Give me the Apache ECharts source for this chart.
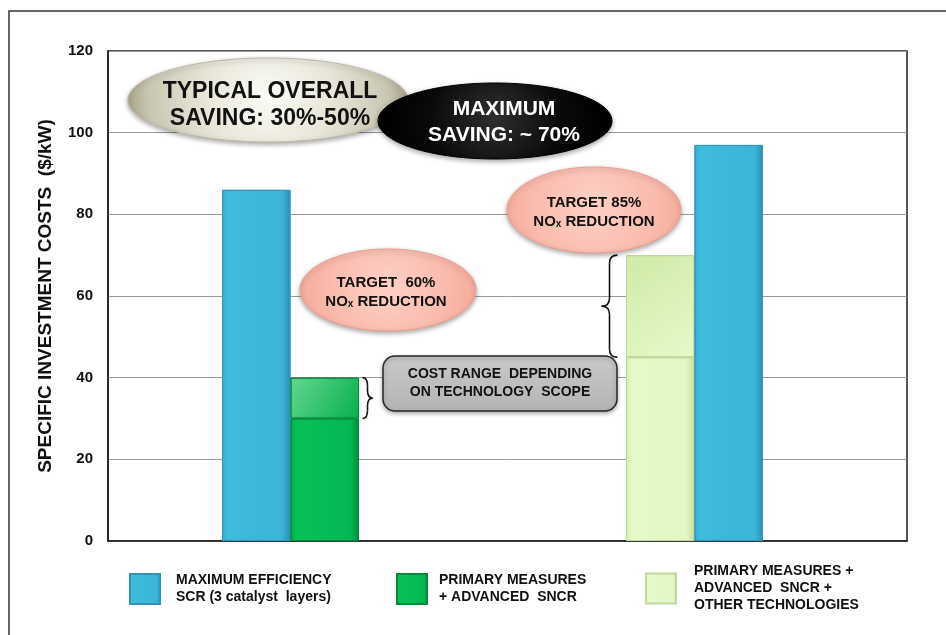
<!DOCTYPE html>
<html lang="en">
<head>
<meta charset="UTF-8">
<title>NOx reduction investment costs</title>
<style>
    html, body { margin: 0; padding: 0; background: #fff; }
    #chart { width: 946px; height: 635px; }
</style>
</head>
<body>
<div id="chart"></div>
<script src="https://cdn.jsdelivr.net/npm/echarts@6/dist/echarts.min.js"></script>
<script>
    // data
    var categories = ['TARGET 60%', 'TARGET 85%'];
    var seriesNames = [
        'MAXIMUM EFFICIENCY\nSCR (3 catalyst  layers)',
        'PRIMARY MEASURES\n+ ADVANCED  SNCR',
        'PRIMARY MEASURES +\nADVANCED  SNCR +\nOTHER TECHNOLOGIES'
    ];
    var scrCost = [86, 97];      // SCR, one bar per target
    var sncrBase = [30];         // target 60%: low end of range
    var sncrRange = [10];        // target 60%: range on top
    var otherBase = [45];        // target 85%: low end of range
    var otherRange = [25];       // target 85%: range on top
    var yTicks = [0, 20, 40, 60, 80, 100, 120];

    var FONT = '"Liberation Sans", Arial, sans-serif';

    function hGrad(c0, c1, c2, c3) {
        return new echarts.graphic.LinearGradient(0, 0, 1, 0, [
            {offset: 0, color: c0}, {offset: 0.08, color: c1},
            {offset: 0.88, color: c2}, {offset: 1, color: c3}
        ]);
    }
    function dGrad(c0, c1) {
        return new echarts.graphic.LinearGradient(0, 0, 1, 1, [
            {offset: 0, color: c0}, {offset: 1, color: c1}
        ]);
    }

    var blue = {color: hGrad('#3aa9cb', '#3fbbde', '#3bb5d8', '#2a8fb0'), borderColor: '#2f96b8', borderWidth: 1};
    var green = {color: hGrad('#05a64b', '#07c058', '#05b753', '#038a3c'), borderColor: '#04893b', borderWidth: 1};
    var greenTop = {color: dGrad('#63d690', '#07b04e'), borderColor: '#04893b', borderWidth: 1};
    var pale = {color: hGrad('#d3ebb1', '#e6f9c9', '#e3f7c5', '#c6dca3'), borderColor: '#bfd89c', borderWidth: 1};
    var paleTop = {color: dGrad('#cfeaa8', '#e6f9c9'), borderColor: '#bfd89c', borderWidth: 1};

    function barSeries(name, stack, data, style) {
        return {
            name: name, type: 'bar', stack: stack,
            xAxisIndex: 1, yAxisIndex: 1,
            barWidth: 68.5, barGap: '0%',
            data: data, itemStyle: style,
            emphasis: {disabled: true}
        };
    }

    var series = [
        barSeries(seriesNames[0], 'a', [scrCost[0], '-'], blue),
        barSeries(seriesNames[1], 'b', [sncrBase[0], '-'], green),
        barSeries(seriesNames[1], 'b', [sncrRange[0], '-'], greenTop),
        barSeries(seriesNames[2], 'a', ['-', otherBase[0]], pale),
        barSeries(seriesNames[2], 'a', ['-', otherRange[0]], paleTop),
        barSeries(seriesNames[0], 'b', ['-', scrCost[1]], blue)
    ];

    function legendAt(i, left, top, pad) {
        return {
            data: [seriesNames[i]], left: left, top: top,
            icon: 'rect', itemWidth: 30, itemHeight: 30,
            selectedMode: false,
            textStyle: {
                fontFamily: FONT, fontWeight: 'bold', fontSize: 14,
                lineHeight: 17, color: '#111', padding: [0, 0, 0, pad]
            }
        };
    }

    var chart = echarts.init(document.getElementById('chart'));
    chart.setOption({
        animation: false,
        grid: [
            {left: 108, right: 39, top: 51, bottom: 94, show: true, borderColor: '#1e1e1e', borderWidth: 1.5},
            {left: 88.5, right: 49.5, top: 51, bottom: 94}
        ],
        xAxis: [
            {type: 'category', gridIndex: 0, data: categories, axisLabel: {show: false},
                axisTick: {show: false}, axisLine: {lineStyle: {color: '#1e1e1e', width: 1.5}}},
            {type: 'category', gridIndex: 1, data: categories, show: false}
        ],
        yAxis: [
            {type: 'value', gridIndex: 0, min: yTicks[0], max: yTicks[yTicks.length - 1], interval: 20,
                name: 'SPECIFIC INVESTMENT COSTS  ($/kW)', nameLocation: 'middle', nameGap: 53,
                nameTextStyle: {fontFamily: FONT, fontWeight: 'bold', fontSize: 19, color: '#111'},
                axisLine: {show: true, lineStyle: {color: '#1e1e1e', width: 1.5}},
                axisTick: {show: false},
                axisLabel: {fontFamily: FONT, fontWeight: 'bold', fontSize: 15, color: '#111', margin: 15},
                splitLine: {lineStyle: {color: '#9a9a9a', width: 1}}},
            {type: 'value', gridIndex: 1, min: yTicks[0], max: yTicks[yTicks.length - 1], show: false}
        ],
        legend: [legendAt(0, 124, 567, 11), legendAt(1, 391, 567, 7), legendAt(2, 640, 558, 13)],
        series: series
    });

    // annotations: ellipses, callout box and braces tied to the data ranges
    function yPix(v) { return chart.convertToPixel({yAxisIndex: 1}, v); }
    function xPix(i) { return chart.convertToPixel({xAxisIndex: 1}, i); }

    function ellipse(cx, cy, rx, ry, r, stops, stroke) {
        return {
            type: 'ellipse', z: 10,
            shape: {cx: cx, cy: cy, rx: rx, ry: ry},
            style: {
                fill: {type: 'radial', x: 0.5, y: 0.45, r: r, colorStops: stops},
                stroke: stroke, lineWidth: 1,
                shadowBlur: 5, shadowOffsetY: 2, shadowColor: 'rgba(0,0,0,0.35)'
            }
        };
    }
    function label(x, y, text, size, color, lh) {
        return {
            type: 'text', z: 11,
            style: {
                x: x, y: y, text: text, fill: color, align: 'center', verticalAlign: 'middle',
                font: 'bold ' + size + 'px ' + FONT, lineHeight: lh,
                rich: {
                    s: {font: 'bold ' + Math.round(size * 0.68) + 'px ' + FONT, fill: color, padding: [6, 0, 0, 0]}
                }
            }
        };
    }
    function brace(x, yTop, yBot, dir, w) {
        var h = w / 2, mid = (yTop + yBot) / 2, s = x + dir * h, t = x + dir * w, c = Math.min(8, (yBot - yTop) / 5);
        var st = {stroke: '#111', lineWidth: 1.6, fill: null};
        return [
            {type: 'bezierCurve', z: 10, shape: {x1: x, y1: yTop, cpx1: s, cpy1: yTop, x2: s, y2: yTop + c}, style: st},
            {type: 'line', z: 10, shape: {x1: s, y1: yTop + c, x2: s, y2: mid - c}, style: st},
            {type: 'bezierCurve', z: 10, shape: {x1: s, y1: mid - c, cpx1: s, cpy1: mid, x2: t, y2: mid}, style: st},
            {type: 'bezierCurve', z: 10, shape: {x1: t, y1: mid, cpx1: s, cpy1: mid, x2: s, y2: mid + c}, style: st},
            {type: 'line', z: 10, shape: {x1: s, y1: mid + c, x2: s, y2: yBot - c}, style: st},
            {type: 'bezierCurve', z: 10, shape: {x1: s, y1: yBot - c, cpx1: s, cpy1: yBot, x2: x, y2: yBot}, style: st}
        ];
    }

    var sncrTop = yPix(sncrBase[0] + sncrRange[0]);
    var sncrLow = yPix(sncrBase[0]);
    var otherTop = yPix(otherBase[0] + otherRange[0]);
    var otherLow = yPix(otherBase[0]);
    var gx0 = xPix(0), gx1 = xPix(1);

    var pinkStops = [{offset: 0, color: '#fdd0c6'}, {offset: 0.6, color: '#fabbad'}, {offset: 1, color: '#f5a898'}];

    var elements = [
        {type: 'polyline', shape: {points: [[9, 635], [9, 11], [946, 11]]}, style: {stroke: '#333', lineWidth: 1.5, fill: null}},
        ellipse(268, 100, 140, 42, 1.65, [{offset: 0, color: '#fbfbf6'}, {offset: 0.45, color: '#e8e6d8'}, {offset: 0.85, color: '#c9c6b2'}, {offset: 1, color: '#a9a58d'}], '#bdb9a3'),
        label(270, 105, 'TYPICAL OVERALL\nSAVING: 30%-50%', 23, '#111', 27),
        ellipse(495, 121, 117, 38, 1.4, [{offset: 0, color: '#2e2e2e'}, {offset: 0.6, color: '#0a0a0a'}, {offset: 1, color: '#000'}], '#000'),
        label(504, 122, 'MAXIMUM\nSAVING: ~ 70%', 21, '#fff', 26),
        ellipse(594, 210, 87, 43, 1.15, pinkStops, '#ee9d8d'),
        label(594, 212, 'TARGET 85%\nNO{s|x} REDUCTION', 15, '#111', 19),
        ellipse(388, 290, 88, 41, 1.15, pinkStops, '#ee9d8d'),
        label(386, 292, 'TARGET  60%\nNO{s|x} REDUCTION', 15, '#111', 19),
        {type: 'rect', z: 10, shape: {x: 383, y: 356, width: 234, height: 55, r: 12},
            style: {fill: new echarts.graphic.LinearGradient(0, 0, 0, 1, [{offset: 0, color: '#c9c9c9'}, {offset: 1, color: '#b4b4b4'}]),
                stroke: '#262626', lineWidth: 1.5, shadowBlur: 4, shadowOffsetY: 2, shadowColor: 'rgba(0,0,0,0.3)'}},
        label(500, 383, 'COST RANGE  DEPENDING\nON TECHNOLOGY  SCOPE', 14, '#111', 18)
    ];
    elements = elements.concat(brace(gx0 + 72, sncrTop, sncrLow, 1, 10));
    elements = elements.concat(brace(gx1 - 77, otherTop, otherLow, -1, 16));

    chart.setOption({graphic: {elements: elements}});
</script>
</body>
</html>
